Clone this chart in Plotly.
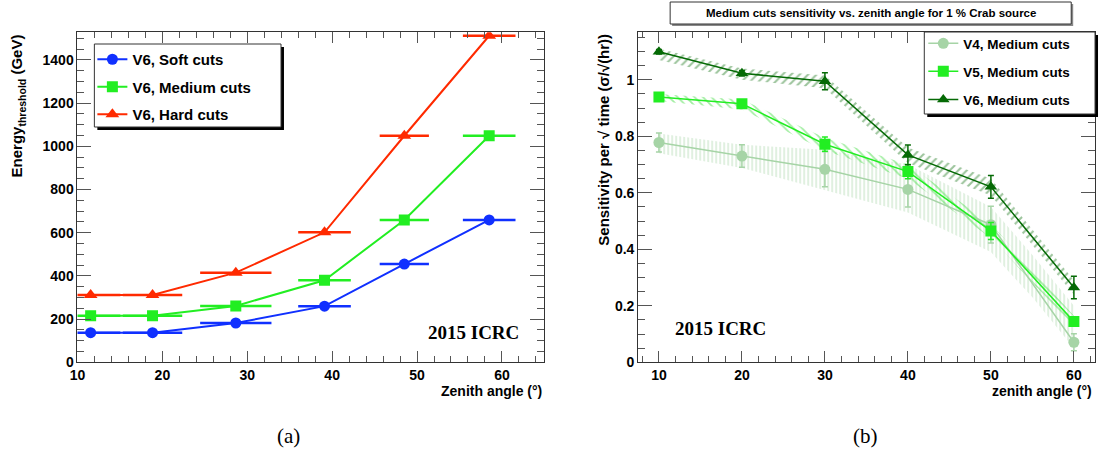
import plotly.graph_objects as go

# ---------------- data: panel (a) ----------------
zenith_a = [11.55, 18.84, 28.65, 39.1, 48.5, 58.5]
zenith_a_err = [3.5, 3.5, 4.2, 3.1, 2.9, 3.1]
soft_cuts = [137, 137, 182, 260, 455, 659]
medium_cuts = [216, 216, 261, 380, 659, 1049]
hard_cuts = [312, 312, 415, 602, 1049, 1512]

# ---------------- data: panel (b) ----------------
zenith_b = [10, 20, 30, 40, 50, 60]
v4_sens = [0.778, 0.730, 0.683, 0.612, 0.487, 0.071]
v4_err = [0.034, 0.040, 0.062, 0.062, 0.065, 0.030]
v5_sens = [0.939, 0.915, 0.772, 0.675, 0.465, 0.144]
v5_err = [0.010, 0.010, 0.025, 0.025, 0.030, 0.010]
v6_sens = [1.099, 1.023, 0.995, 0.734, 0.621, 0.265]
v6_err = [0.008, 0.010, 0.030, 0.035, 0.040, 0.040]

band_x_v4 = [10, 20, 30, 40, 50, 55, 60]
v4_band_hi = [0.810, 0.770, 0.752, 0.700, 0.550, 0.380, 0.200]
v4_band_lo = [0.740, 0.688, 0.610, 0.530, 0.390, 0.230, 0.050]
v5_band_hi = [0.950, 0.930, 0.795, 0.700, 0.490, 0.165]
v5_band_lo = [0.925, 0.895, 0.750, 0.650, 0.440, 0.125]
v6_band_hi = [1.110, 1.040, 1.015, 0.760, 0.650, 0.290]
v6_band_lo = [1.070, 1.000, 0.970, 0.705, 0.590, 0.240]

title_b = "Medium cuts sensitivity vs. zenith angle for 1 % Crab source"

BLUE = "#1030ff"
GREEN = "#22ee22"
RED = "#ff2a00"
V4C = "#a6d4a6"
V5C = "#22ee22"
V6C = "#056a05"

SANS = "Liberation Sans"
SERIF = "Liberation Serif"
W = 1100
HY = 446  # effective vertical scale of the captured page

fig = go.Figure()

# ---- panel (a) traces ----
for name, vals, col, sym, ms in [
    ("V6, Soft cuts", soft_cuts, BLUE, "circle", 11),
    ("V6, Medium cuts", medium_cuts, GREEN, "square", 11),
    ("V6, Hard cuts", hard_cuts, RED, "triangle-up", 12),
]:
    fig.add_trace(go.Scatter(
        x=zenith_a, y=vals, mode="lines+markers", name=name,
        line=dict(color=col, width=2),
        marker=dict(color=col, symbol=sym, size=ms),
        error_x=dict(type="data", array=zenith_a_err, color=col, thickness=2.5, width=0),
        xaxis="x", yaxis="y", legend="legend", legendgroup=name,
    ))

# ---- panel (b) bands ----
def band(xs, hi, lo, col, shape, sz, sol):
    fig.add_trace(go.Scatter(
        x=list(xs) + list(xs)[::-1], y=list(hi) + list(lo)[::-1],
        fill="toself", mode="lines", line=dict(width=0, color=col),
        fillcolor="rgba(0,0,0,0)",
        fillpattern=dict(shape=shape, fgcolor=col, bgcolor="rgba(0,0,0,0)",
                         size=sz, solidity=sol),
        showlegend=False, hoverinfo="skip", xaxis="x2", yaxis="y2",
    ))

band(band_x_v4, v4_band_hi, v4_band_lo, V4C, "|", 4, 0.35)
band(zenith_b, v5_band_hi, v5_band_lo, "#44dd44", "\\", 6, 0.3)
band(zenith_b, v6_band_hi, v6_band_lo, "#3a8a3a", "/", 6, 0.35)

for name, vals, errs, col, sym, ms in [
    ("V4, Medium cuts", v4_sens, v4_err, V4C, "circle", 11),
    ("V5, Medium cuts", v5_sens, v5_err, V5C, "square", 11),
    ("V6, Medium cuts", v6_sens, v6_err, V6C, "triangle-up", 11),
]:
    fig.add_trace(go.Scatter(
        x=zenith_b, y=vals, mode="lines+markers", name=name,
        line=dict(color=col, width=1.5),
        marker=dict(color=col, symbol=sym, size=ms),
        error_y=dict(type="data", array=errs, color=col, thickness=1.5, width=3),
        xaxis="x2", yaxis="y2", legend="legend2", legendgroup=name,
    ))

def fy(ypx):
    return 1 - ypx / HY

ydom = [fy(362.3), fy(32.3)]
axis_common = dict(
    showline=True, linecolor="#333", linewidth=1, mirror="allticks",
    ticks="inside", tickcolor="#555", tickwidth=1,
    showgrid=False, zeroline=False,
    tickfont=dict(family=SANS, size=14, color="black", weight="bold"),
)

fig.update_layout(
    autosize=True, margin=dict(l=0, r=0, t=0, b=0),
    paper_bgcolor="white", plot_bgcolor="white",
    showlegend=True,
    xaxis=dict(domain=[70 / W, 540.3 / W], range=[10, 65], dtick=10, tick0=0,
               ticklen=11, minor=dict(dtick=2, ticks="inside", ticklen=6, tickcolor="#555"),
               anchor="y", **axis_common),
    yaxis=dict(domain=ydom, range=[0, 1528], dtick=200, tick0=0,
               ticklen=14, minor=dict(dtick=50, ticks="inside", ticklen=7, tickcolor="#555"),
               anchor="x", **axis_common),
    xaxis2=dict(domain=[634.8 / W, 1094.6 / W], range=[7.5, 62.5], dtick=10, tick0=0,
                ticklen=11, minor=dict(dtick=2, ticks="inside", ticklen=6, tickcolor="#555"),
                anchor="y2", **axis_common),
    yaxis2=dict(domain=ydom, range=[0, 1.168], dtick=0.2, tick0=0,
                ticklen=14, minor=dict(dtick=0.05, ticks="inside", ticklen=7, tickcolor="#555"),
                anchor="x2", **axis_common),
    legend=dict(x=85 / W, y=fy(43), xanchor="left", yanchor="top",
                bgcolor="rgba(0,0,0,0)", borderwidth=0, tracegroupgap=5,
                traceorder="grouped",
                font=dict(family=SANS, size=15, color="black", weight="bold")),
    legend2=dict(x=922 / W, y=fy(28), xanchor="left", yanchor="top",
                 bgcolor="rgba(0,0,0,0)", borderwidth=0, tracegroupgap=7.5,
                 traceorder="grouped",
                 font=dict(family=SANS, size=13.5, color="black", weight="bold")),
)

def px_rect(x0, y0, x1, y1, fill, line_color=None, lw=0):
    fig.add_shape(type="rect", xref="paper", yref="paper",
                  x0=x0 / W, x1=x1 / W, y0=fy(y1), y1=fy(y0),
                  fillcolor=fill, line=dict(color=line_color or fill, width=lw),
                  layer="above")

# legend boxes with ROOT-like shadows
px_rect(90, 47, 278, 130, "black")
px_rect(87, 44, 275, 127, "white", "#333", 1)
px_rect(926, 35, 1098, 117, "black")
px_rect(923, 32, 1095, 114, "white", "#333", 1)
# title box (b)
px_rect(669, 4, 1073, 26, "#888")
px_rect(667, 2, 1071, 24, "white", "#333", 1)

def ann(text, x, y, size, family=SANS, xanchor="center", yanchor="middle", angle=0, bold=True):
    fig.add_annotation(text=text, x=x / W, y=fy(y), xref="paper", yref="paper",
                       showarrow=False, xanchor=xanchor, yanchor=yanchor, textangle=angle,
                       font=dict(family=family, size=size, color="black",
                                 weight="bold" if bold else "normal"))

ann(title_b, 869, 13, 11.5)
ann("Energy<sub>threshold</sub> (GeV)", 10, 32, 15, yanchor="top", angle=-90)
ann("Zenith angle (°)", 540, 391, 14, xanchor="right")
ann("Sensitivity per √ time (σ/√(hr))", 599, 32, 15, yanchor="top", angle=-90)
ann("zenith angle (°)", 1094, 391, 14, xanchor="right")
ann("2015 ICRC", 469, 332, 19, family=SERIF)
ann("2015 ICRC", 718, 328, 19, family=SERIF)
ann("(a)", 283, 436, 21, family=SERIF, bold=False)
ann("(b)", 864, 436, 21, family=SERIF, bold=False)

post = (
    "document.documentElement.style.margin='0px';"
    "document.body.style.margin='0px';"
    "document.body.style.overflow='hidden';"
    "document.documentElement.style.overflow='hidden';"
    "var gd=document.getElementById('{plot_id}');"
    "gd.style.width='100vw';gd.style.height='100vh';"
    "Plotly.Plots.resize(gd);"
)
fig.write_html("out.html", default_width="100vw", default_height="100vh",
               config={"displayModeBar": False, "responsive": True},
               post_script=post)
